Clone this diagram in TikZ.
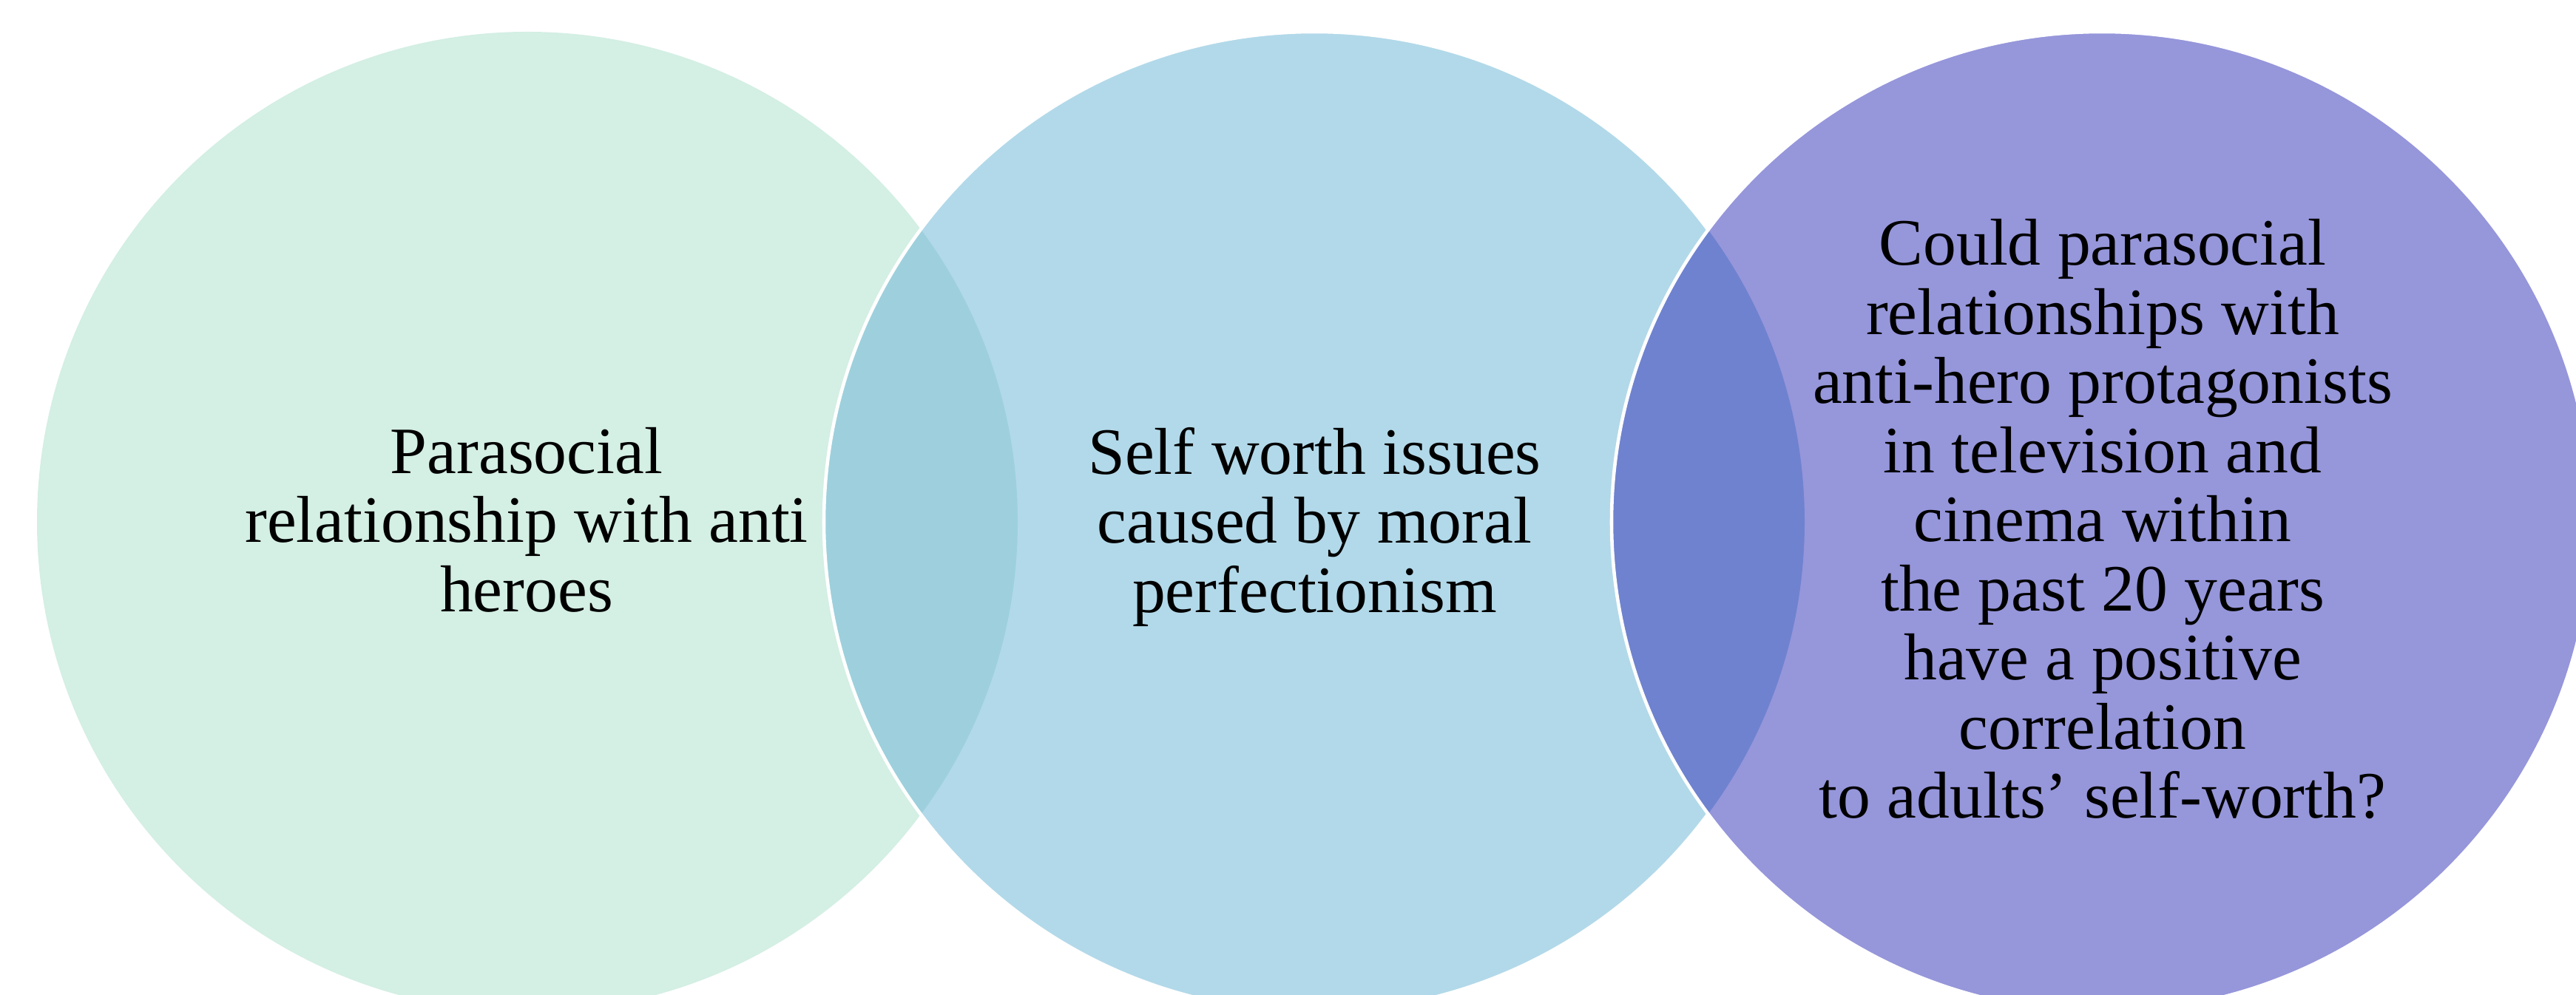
\documentclass[tikz,border=0pt]{standalone}
\usepackage{fontspec}
\setmainfont{Liberation Serif}
\definecolor{vennmint}{HTML}{D4EFE4}
\definecolor{vennsky}{HTML}{B2D9E9}
\definecolor{vennlav}{HTML}{9696DB}
\definecolor{vennmintsky}{HTML}{9DD0DC}
\definecolor{vennskylav}{HTML}{6F82CF}
\def\rad{6.63}

\begin{document}
\begin{tikzpicture}[venntext/.style={align=center,inner sep=0pt,font=\fontsize{25.5}{26.6}\selectfont},
    rim/.style={draw=white,line width=1.3pt}]
    \useasboundingbox (0,0) rectangle (34.83,13.46);
    \clip (0,0) rectangle (34.83,13.46);
    \coordinate (cleft) at (7.13,6.40);
    \coordinate (cmid) at (17.77,6.40);
    \coordinate (cright) at (28.42,6.40);
    % circles and their overlaps
    \fill[vennmint] (cleft) circle (\rad);
    \fill[vennsky] (cmid) circle (\rad);
    \begin{scope}
      \clip (cleft) circle (\rad);
      \fill[vennmintsky] (cmid) circle (\rad);
    \end{scope}
    \draw[rim] (cmid) circle (\rad);
    \fill[vennlav] (cright) circle (\rad);
    \begin{scope}
      \clip (cmid) circle (\rad);
      \fill[vennskylav] (cright) circle (\rad);
    \end{scope}
    \draw[rim] (cright) circle (\rad);
    % labels
    \node[venntext] (lefttext) at (7.12,6.43) {Parasocial\\relationship with anti\\heroes};
    \node[venntext] (midtext) at (17.775,6.33) {Self worth issues\\caused by moral\\perfectionism};
    \node[venntext] (righttext) at (28.43,6.435) {Could parasocial\\relationships with\\anti-hero protagonists\\in television and\\cinema within\\the past 20 years\\have a positive\\correlation\\to adults’ self-worth?};
\end{tikzpicture}
\end{document}
